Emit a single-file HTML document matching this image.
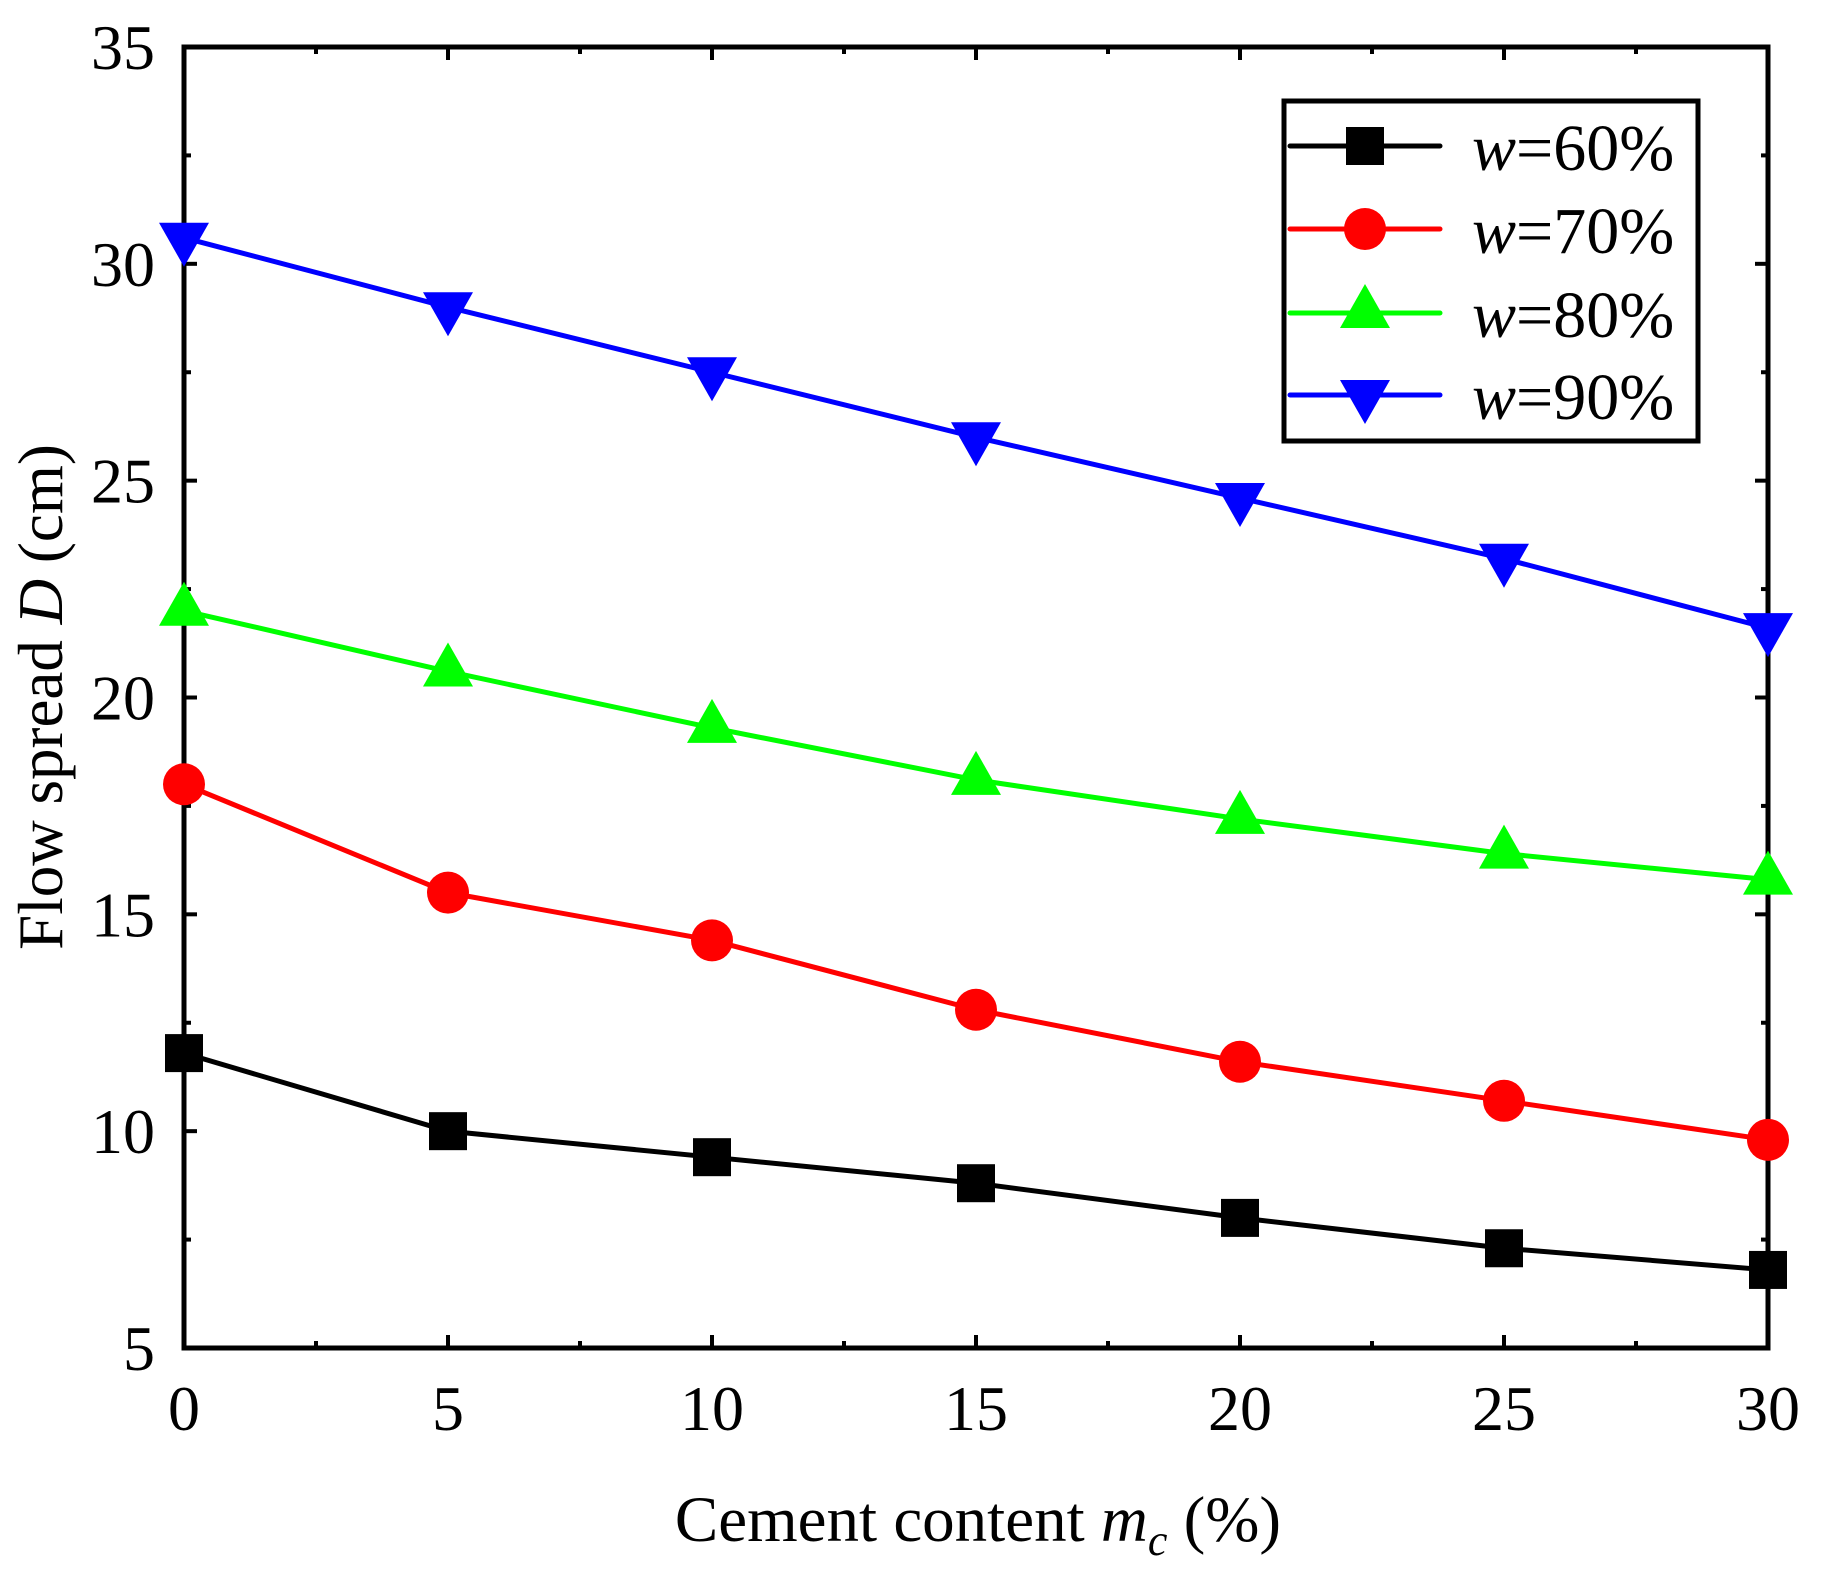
<!DOCTYPE html>
<html><head><meta charset="utf-8"><style>html,body{margin:0;padding:0;background:#fff;}svg{display:block}</style></head>
<body>
<svg width="1821" height="1586" viewBox="0 0 1821 1586" xmlns="http://www.w3.org/2000/svg" font-family="'Liberation Serif', serif">
<rect width="1821" height="1586" fill="#fff"/>
<g id="ticks" stroke="#000" stroke-width="4"></g>
<rect x="184" y="47" width="1584" height="1301" fill="none" stroke="#000" stroke-width="5"/>
<g id="labels" font-size="64" fill="#000"></g>
<g id="series"></g>
<text x="978" y="1541" font-size="65" text-anchor="middle">Cement content <tspan font-style="italic">m</tspan><tspan font-style="italic" font-size="44" dy="14">c</tspan><tspan dy="-14"> (%)</tspan></text>
<text transform="translate(62,697) rotate(-90)" font-size="63" text-anchor="middle">Flow spread <tspan font-style="italic">D</tspan> (cm)</text>
<rect x="1284" y="101" width="414" height="340" fill="#fff" stroke="#000" stroke-width="5"/>
<g id="legend"></g>
<script>
var X=function(v){return 184+v*52.8},Y=function(v){return 1348-(v-5)*43.367};
var ns="http://www.w3.org/2000/svg";
function el(p,t,a,txt){var e=document.createElementNS(ns,t);for(var k in a)e.setAttribute(k,a[k]);if(txt!=null)e.textContent=txt;p.appendChild(e);return e;}
var tk=document.getElementById('ticks'),lb=document.getElementById('labels');
for(var v=0;v<=30;v+=2.5){var x=X(v),L=(v%5==0)?13:7;el(tk,'line',{x1:x,y1:1348,x2:x,y2:1348-L});el(tk,'line',{x1:x,y1:47,x2:x,y2:47+L});
 if(v%5==0)el(lb,'text',{x:x,y:1430,'text-anchor':'middle'},v);}
for(var v=5;v<=35;v+=2.5){var y=Y(v),L=(v%5==0)?13:7;el(tk,'line',{x1:184,y1:y,x2:184+L,y2:y});el(tk,'line',{x1:1768,y1:y,x2:1768-L,y2:y});
 if(v%5==0)el(lb,'text',{x:155,y:y+22,'text-anchor':'end'},v);}
var S=[
 {c:'#000',m:'sq',d:[11.8,10,9.4,8.8,8,7.3,6.8],n:'60'},
 {c:'#ff0000',m:'ci',d:[18,15.5,14.4,12.8,11.6,10.7,9.8],n:'70'},
 {c:'#00ff00',m:'up',d:[22,20.6,19.3,18.1,17.2,16.4,15.8],n:'80'},
 {c:'#0000ff',m:'dn',d:[30.6,29,27.5,26,24.6,23.2,21.6],n:'90'}];
function mk(g,m,x,y,c){
 if(m=='sq')el(g,'rect',{x:x-19,y:y-19,width:38,height:38,fill:c});
 else if(m=='ci')el(g,'circle',{cx:x,cy:y,r:21,fill:c});
 else if(m=='up')el(g,'polygon',{points:(x-25)+','+(y+15)+' '+(x+25)+','+(y+15)+' '+x+','+(y-29),fill:c});
 else el(g,'polygon',{points:(x-25)+','+(y-15)+' '+(x+25)+','+(y-15)+' '+x+','+(y+29),fill:c});}
var sg=document.getElementById('series'),lg=document.getElementById('legend');
var ly=[146,229,313,395];
S.forEach(function(s,i){
 var pts=s.d.map(function(v,j){return X(j*5)+','+Y(v)}).join(' ');
 el(sg,'polyline',{points:pts,fill:'none',stroke:s.c,'stroke-width':5,'stroke-linejoin':'round'});
 s.d.forEach(function(v,j){mk(sg,s.m,X(j*5),Y(v),s.c)});
 el(lg,'line',{x1:1290,y1:ly[i],x2:1440,y2:ly[i],stroke:s.c,'stroke-width':5,'stroke-linecap':'round'});
 mk(lg,s.m,1365,ly[i],s.c);
 var t=el(lg,'text',{x:1472,y:ly[i]+24,'font-size':66});
 el(t,'tspan',{'font-style':'italic'},'w');el(t,'tspan',{},'='+s.n+'%');
});
</script>
</svg>
</body></html>
